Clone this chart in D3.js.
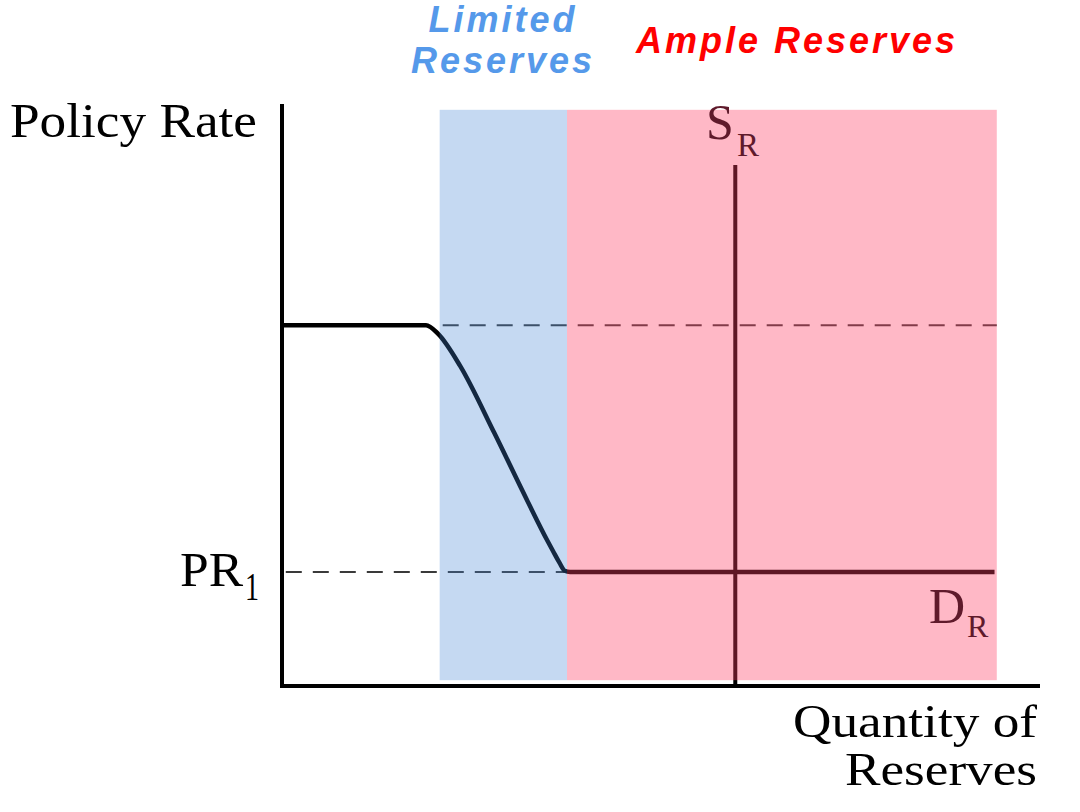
<!DOCTYPE html>
<html><head><meta charset="utf-8">
<script src="https://cdn.jsdelivr.net/npm/d3@7"></script>
<style>body{margin:0;background:#fff}svg{display:block}</style>
</head><body>
<svg id="chart" width="1080" height="812"></svg>
<script>
// ---- data (abstract units: quantity 0-100, rate 0-100) ----
const demandCurve = [[0,62],[19,62],[20.6,60.5],[23.5,55],[28,43.5],[32.3,32],[35,25],[35.75,23.2],[36.6,21.2],[37.3,19.8],[38,19.6],[94,19.6]];
const supplyLine = [[59.8,0],[59.8,89.5]];
const highRateDash = [[21.2,62],[94.3,62]];
const pr1Dash = [[0.5,19.6],[37.3,19.6]];
const regionNames = ["Limited Reserves","Ample Reserves"];
const regionStart = [20.8, 37.6];
const regionEnd = [37.6, 94.3];
const regionBottom = 1.0, regionTop = 99.0;

const svg = d3.select("#chart");
const x = d3.scaleLinear().domain([0,100]).range([282,1040]);
const y = d3.scaleLinear().domain([0,100]).range([686,104]);
const line = d3.line().x(d=>x(d[0])).y(d=>y(d[1]));

// axes
svg.append("line").attr("x1",x(0)).attr("x2",x(0)).attr("y1",y(100)).attr("y2",y(0))
  .attr("stroke","#000").attr("stroke-width",4);
svg.append("line").attr("x1",x(0)-2).attr("x2",x(100)).attr("y1",y(0)).attr("y2",y(0))
  .attr("stroke","#000").attr("stroke-width",4);

// dashed guides
[highRateDash, pr1Dash].forEach(d=>{
  svg.append("path").attr("d",line(d)).attr("fill","none")
    .attr("stroke","#3a3a3a").attr("stroke-width",2).attr("stroke-dasharray","16,11");
});

// supply
svg.append("path").attr("d",line(supplyLine)).attr("fill","none")
  .attr("stroke","#000").attr("stroke-width",4);

// demand
svg.append("path").attr("d",d3.line().x(d=>x(d[0])).y(d=>y(d[1])).curve(d3.curveMonotoneX)(demandCurve))
  .attr("fill","none").attr("stroke","#000").attr("stroke-width",4.5).attr("stroke-linejoin","round");

// translucent regions on top
const regionFill = ["rgb(66,131,213)","rgb(255,62,100)"];
const regionOpacity = [0.305,0.37];
regionNames.forEach((n,i)=>{
  svg.append("rect").attr("x",x(regionStart[i])).attr("width",x(regionEnd[i])-x(regionStart[i]))
    .attr("y",y(regionTop)).attr("height",y(regionBottom)-y(regionTop))
    .attr("fill",regionFill[i]).attr("fill-opacity",regionOpacity[i]);
});

// region titles
const sans = "'Liberation Sans', Arial, sans-serif";
const t1 = svg.append("text").attr("text-anchor","middle").attr("font-family",sans)
  .attr("font-weight","bold").attr("font-style","italic").attr("font-size",36)
  .attr("letter-spacing",3).attr("fill","#5599ea");
t1.append("tspan").attr("x",503).attr("y",32).text("Limited");
t1.append("tspan").attr("x",503).attr("y",73).text("Reserves");
svg.append("text").attr("x",797).attr("y",53).attr("text-anchor","middle").attr("font-family",sans)
  .attr("font-weight","bold").attr("font-style","italic").attr("font-size",36)
  .attr("letter-spacing",3).attr("fill","#ff0000").text(regionNames[1]);

// serif labels
const serif = "'Liberation Serif', 'Times New Roman', serif";
function lab(txt,xx,yy,size,fill,len){
  const t = svg.append("text").attr("x",xx).attr("y",yy).attr("font-family",serif)
    .attr("font-size",size).attr("fill",fill).text(txt);
  if(len){ t.attr("textLength",len).attr("lengthAdjust","spacingAndGlyphs"); }
  return t;
}
lab("Policy Rate",10,137,48,"#000",247);
lab("PR",180,586,48,"#000",63);
lab("1",245,600,40,"#000",14);
lab("Quantity of",793,737,47,"#000",244);
lab("Reserves",845,785,47,"#000",192);
lab("S",706,139,50,"#5f1a2b");
lab("R",737,156,33,"#5f1a2b");
lab("D",929,623,50,"#5f1a2b");
lab("R",967,637,32,"#5f1a2b");
</script>
</body></html>
